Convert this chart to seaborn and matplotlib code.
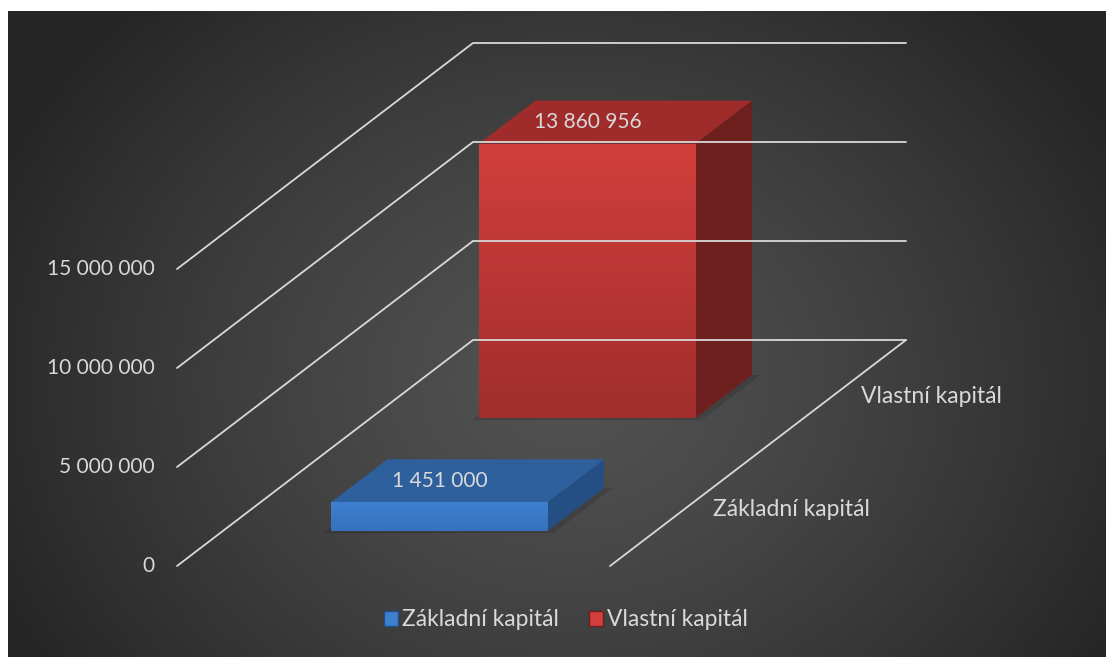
import numpy as np
import matplotlib.pyplot as plt
import seaborn as sns
from matplotlib.patches import Polygon, Patch
from matplotlib.colors import to_rgb

# ---------- DATA ----------
series = ["Základní kapitál", "Vlastní kapitál"]
values = [1451000, 13860956]
yticks = [0, 5000000, 10000000, 15000000]

# colours: front, top, side
front_top = ["#3d80cf", "#d23f3c"]
front_bot = ["#3671bd", "#a02e2c"]
top_col = ["#2e609e", "#9f2c2a"]
side_col = ["#244f85", "#6e201f"]
txt = "#d9d9d9"

sns.set_theme(style="white")
plt.rcParams["font.family"] = ["Lato", "DejaVu Sans"]

# oblique projection: c = position across category (0..1), d = depth row, v = value
DU = 0.3418          # horizontal shift per depth row (category units)
DV = 5.707e6         # vertical shift per depth row (value units)


def proj(c, d, v):
    return c + d * DU, v + d * DV


fig = plt.figure(figsize=(11.06, 6.57), dpi=100)
fig.patch.set_facecolor("white")

# background with radial gradient
bg = fig.add_axes([8 / 1106, 0, 1098 / 1106, 646 / 657])
bg.set_axis_off()
yy, xx = np.mgrid[0:646, 0:1098]
r = np.sqrt(((xx - 560) / 620.0) ** 2 + ((yy - 370) / 520.0) ** 2)
r = np.clip(r, 0, 1)
shade = 0x52 - (0x52 - 0x26) * r ** 1.3
img = np.dstack([shade, shade, shade]) / 255.0
bg.imshow(img, aspect="auto", extent=[0, 1, 0, 1])

ax = fig.add_axes([0, 0, 1, 1])
ax.set_axis_off()

ndepth = len(series)

# gridlines on side and back walls
for t in yticks:
    pts = [proj(0, 0, t), proj(0, ndepth, t), proj(1, ndepth, t)]
    ax.plot([p[0] for p in pts], [p[1] for p in pts], color="#d9d9d9", lw=1.3,
            solid_joinstyle="miter")
    ax.text(-0.052, t, f"{t:,}".replace(",", " "), ha="right", va="center",
            color=txt, fontsize=15)

# floor right edge
p0, p1 = proj(1, 0, 0), proj(1, ndepth, 0)
ax.plot([p0[0], p1[0]], [p0[1], p1[1]], color="#d9d9d9", lw=1.3)

# bars, back to front
c0, c1 = 0.25, 0.75
for i in reversed(range(ndepth)):
    val = values[i]
    d0, d1 = i + 0.31, i + 0.69
    # soft shadow on floor
    sh = [proj(c0 - 0.01, d0 - 0.02, 0), proj(c1 + 0.02, d0 - 0.02, 0),
          proj(c1 + 0.02, d1, 0), proj(c0 - 0.01, d1, 0)]
    ax.add_patch(Polygon(sh, closed=True, facecolor="black", alpha=0.13,
                         edgecolor="none"))
    # side face
    side = [proj(c1, d0, 0), proj(c1, d1, 0), proj(c1, d1, val), proj(c1, d0, val)]
    ax.add_patch(Polygon(side, closed=True, facecolor=side_col[i], edgecolor="none"))
    # top face
    top = [proj(c0, d0, val), proj(c1, d0, val), proj(c1, d1, val), proj(c0, d1, val)]
    ax.add_patch(Polygon(top, closed=True, facecolor=top_col[i], edgecolor="none"))
    # front face with vertical gradient
    fx, fy = proj(c0, d0, 0)
    bars = ax.bar(fx, val, width=c1 - c0, bottom=fy, align="edge",
                  color=front_top[i], edgecolor="none")
    grad = np.linspace(0, 1, 100)[:, None, None]
    ct = np.array(to_rgb(front_top[i]))
    cb = np.array(to_rgb(front_bot[i]))
    gimg = ct * (1 - grad) + cb * grad
    gim = ax.imshow(gimg, extent=[fx, fx + c1 - c0, fy, fy + val], aspect="auto",
                    origin="upper", zorder=bars[0].get_zorder())
    gim.set_clip_path(bars[0])
    # value label on top face
    lx, _ = proj(0.5, d0, val)
    _, ly = proj(0.5, (d0 + d1) / 2, val)
    ax.text(lx, ly, f"{val:,}".replace(",", " "), ha="center", va="center",
            color=txt, fontsize=15)

ax.set_xlim(-177 / 433, (1106 - 177) / 433)
ax.set_ylim(-91 / 19.8e-6, (657 - 91) / 19.8e-6)

# depth axis labels
for i, name in enumerate(series):
    x, y = proj(1, i + 0.5, 0)
    ax.annotate(name, (x, y), xytext=(29, 0), textcoords="offset pixels",
                ha="left", va="center", color=txt, fontsize=16.5)

# legend
handles = [Patch(facecolor=front_top[i], edgecolor=side_col[i], label=series[i])
           for i in range(ndepth)]
fig.legend(handles=handles, loc="center", bbox_to_anchor=(566 / 1106, 37 / 657), ncol=2,
           frameon=False, fontsize=16.5, labelcolor=txt, handlelength=0.6,
           handleheight=0.6, handletextpad=0.2, columnspacing=1.3)

fig.savefig("out.png", dpi=100, facecolor=fig.get_facecolor())
